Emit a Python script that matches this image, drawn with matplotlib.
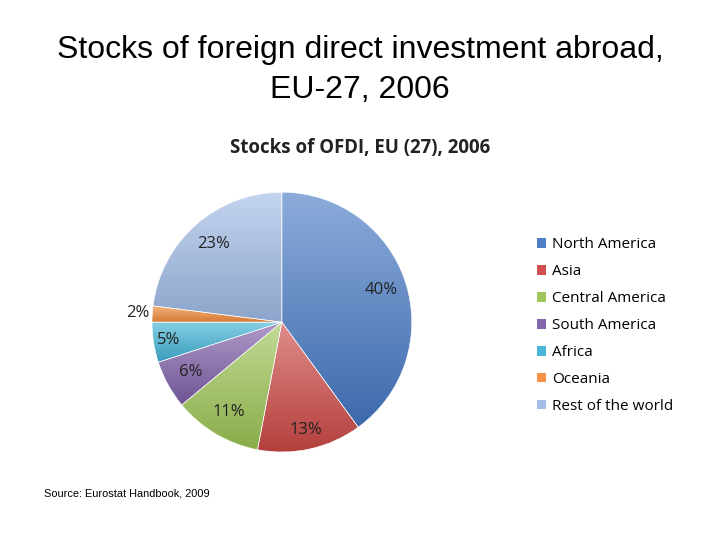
import numpy as np
import matplotlib.pyplot as plt
from matplotlib.colors import to_rgb

regions = ["North America", "Asia", "Central America", "South America",
           "Africa", "Oceania", "Rest of the world"]
shares = [40, 13, 11, 6, 5, 2, 23]
colors = ["#4578c4", "#cc4744", "#9cc454", "#7e5ea8", "#3fb2d6", "#f38b3a", "#9fbbe6"]


def shade(c, f):
    # f > 0 lighter, f < 0 darker
    r = np.array(to_rgb(c))
    if f >= 0:
        return r + (1 - r) * f
    return r * (1 + f)


fig = plt.figure(figsize=(7.2, 5.4), dpi=100)
fig.patch.set_facecolor("white")

fig.text(0.5, 0.935, "Stocks of foreign direct investment abroad,\nEU-27, 2006",
         ha="center", va="top", fontsize=23, family="Liberation Sans",
         linespacing=1.42)
fig.text(0.5, 0.725, "Stocks of OFDI, EU (27), 2006", ha="center", va="center",
         fontsize=13.4, family="Open Sans", fontweight="bold", color="#222222")
fig.text(0.061, 0.087, "Source: Eurostat Handbook, 2009", fontsize=7.9,
         family="Liberation Sans", va="center")

ax = fig.add_axes([0.211, 0.163, 0.361, 0.481])
wedges, texts, pcts = ax.pie(shares, colors=colors, startangle=90, counterclock=False,
                             autopct="%1.0f%%", pctdistance=0.8,
                             wedgeprops=dict(edgecolor="white", linewidth=0.4),
                             textprops=dict(fontsize=12, family="Open Sans", color="#222222"))

# vertical gradient inside every wedge, clipped to the wedge shape
for w, c in zip(wedges, colors):
    v = w.get_path().vertices
    x0, x1 = v[:, 0].min(), v[:, 0].max()
    y0, y1 = v[:, 1].min(), v[:, 1].max()
    grad = np.linspace(0, 1, 256)[:, None]
    top = shade(c, 0.38)
    bot = shade(c, -0.12)
    img = top[None, None, :] * (1 - grad[..., None]) + bot[None, None, :] * grad[..., None]
    img = np.repeat(img, 2, axis=1)
    im = ax.imshow(img, extent=(x0, x1, y0, y1), origin="upper", zorder=w.get_zorder() - 0.01,
                   interpolation="bilinear", aspect="auto")
    im.set_clip_path(w)
    w.set_facecolor("none")

# small slice label goes outside
x, y = pcts[5].get_position()
pcts[5].set_position((x * 1.39, y * 1.39))
x, y = pcts[4].get_position()
pcts[4].set_position((x * 1.1, y * 1.1))
x, y = pcts[1].get_position()
pcts[1].set_position((x * 1.06, y * 1.06))

ax.set_xlim(-1, 1)
ax.set_ylim(-1, 1)
ax.set_aspect("equal")
ax.axis("off")

handles = [plt.Rectangle((0, 0), 1, 1, facecolor=shade(c, 0.05)) for c in colors]
fig.legend(handles, regions, loc="center left", bbox_to_anchor=(0.727, 0.397),
           frameon=False, prop=dict(family="Open Sans", size=11),
           handlelength=0.6, handleheight=0.6, handletextpad=0.35, labelspacing=0.78)

fig.savefig("out.png", dpi=100, facecolor="white")
